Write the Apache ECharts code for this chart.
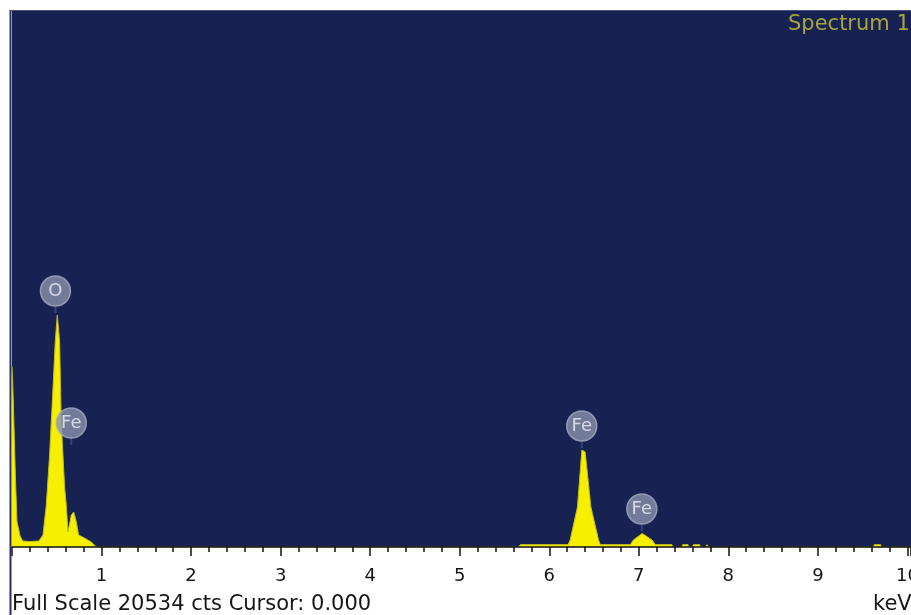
<!DOCTYPE html>
<html><head><meta charset="utf-8">
<script src="https://cdn.jsdelivr.net/npm/echarts@6/dist/echarts.min.js"></script>
<style>html,body{margin:0;padding:0;background:#fff}#c{width:911px;height:615px}</style>
</head><body><div id="c"></div>
<script>
const fullScale = 20534;
const cursorKeV = '0.000';
const spectrumName = 'Spectrum 1';
const energyKeV = [0.000,0.010,0.020,0.035,0.055,0.090,0.120,0.200,0.300,0.346,0.383,0.420,0.458,0.483,0.506,0.532,0.550,0.588,0.606,0.625,0.662,0.689,0.718,0.744,0.810,0.885,0.930,0.960,5.650,5.680,6.210,6.233,6.315,6.364,6.382,6.401,6.465,6.551,6.570,6.905,6.940,7.038,7.147,7.186,7.370,7.380,7.480,7.490,7.550,7.560,7.600,7.610,7.680,7.690,7.750,7.760,7.780,7.950,7.960,7.970,9.620,9.630,9.700,9.710,10.040];
const counts =    [6900, 6000, 4900, 3020, 990,  420,  230,  210,  230,  460,  1600, 3520, 6080, 7840, 8870, 7840, 4780, 2260, 1610, 570,  1220, 1340, 960,  460,  340,  190,  40,   0,    0,    90,   90,   260,  1530, 3710, 3750, 3630, 1530, 260,  90,   90,   270,  520,  270,  90,   90,   0,    0,    90,   90,   0,    0,    90,   90,   0,    0,    90,   0,    0,    60,   0,    0,    90,   90,   0,    0];
const peakNames = ['O','Fe','Fe','Fe'];
const peakKeV = [0.485, 0.662, 6.363, 7.034];
const peakMarkCounts = [8948, 3900, 3786, 612];

const spectrum = energyKeV.map((e,i)=>[e, counts[i]]);
const marks = peakKeV.map((e,i)=>[e, peakMarkCounts[i]]);

const chart = echarts.init(document.getElementById('c'), null, {renderer:'canvas'});
chart.setOption({
  animation:false,
  backgroundColor:'#ffffff',
  grid:{left:12, right:0, top:10, bottom:68, show:true, backgroundColor:'#172152', borderWidth:0,
        containLabel:false, outerBoundsMode:'none'},
  xAxis:{
    type:'value', min:0, max:10.04, interval:1, z:10,
    axisLine:{show:true, onZero:false, lineStyle:{color:'#111', width:1.5}},
    axisTick:{show:true, inside:false, length:9, lineStyle:{color:'#111', width:1.5}},
    minorTick:{show:true, splitNumber:5, length:5, lineStyle:{color:'#111', width:1.5}},
    splitLine:{show:false},
    axisLabel:{show:true, margin:20, color:'#151515', fontFamily:'DejaVu Sans', fontSize:18,
      showMinLabel:false, showMaxLabel:false, hideOverlap:false,
      formatter:v => (v>0 && v<=10 && Math.abs(v-Math.round(v))<1e-6) ? String(Math.round(v)) : ''}
  },
  yAxis:{type:'value', min:0, max:fullScale, show:false, splitLine:{show:false}},
  series:[
    {type:'line', data:spectrum, symbol:'none', smooth:false, z:2,
     lineStyle:{color:'#c2bd1c', width:1},
     areaStyle:{color:'#f6f000', opacity:1}},
    {type:'scatter', data:marks, symbol:'rect', symbolSize:[2,8], symbolOffset:[0,-4], z:4,
     itemStyle:{color:'#3e4c82'}, silent:true},
    {type:'scatter', data:marks, symbol:'circle', symbolSize:30, symbolOffset:[0,-22], z:5,
     itemStyle:{color:'#8b92ae', borderColor:'#a5abc2', borderWidth:1.5},
     label:{show:true, position:'inside', color:'#eef0f6', fontFamily:'DejaVu Sans', fontSize:18,
       formatter:p => peakNames[p.dataIndex]}}
  ],
  graphic:[
    {type:'line', shape:{x1:10.5,y1:10,x2:10.5,y2:615}, style:{stroke:'#27305e', lineWidth:2}, z:20},
    {type:'line', shape:{x1:10,y1:10.5,x2:911,y2:10.5}, style:{stroke:'#4a5278', lineWidth:1}, z:20},
    {type:'text', x:788, y:25, style:{text:spectrumName, fill:'#a6a63a', font:'21px "DejaVu Sans"', verticalAlign:'middle', align:'left'}, z:20},
    {type:'text', x:12, y:605, style:{text:`Full Scale ${fullScale} cts Cursor: ${cursorKeV}`, fill:'#151515', font:'21px "DejaVu Sans"', verticalAlign:'middle', align:'left'}, z:20},
    {type:'text', x:873, y:605, style:{text:'keV', fill:'#151515', font:'21px "DejaVu Sans"', verticalAlign:'middle', align:'left'}, z:20}
  ]
});
</script></body></html>
